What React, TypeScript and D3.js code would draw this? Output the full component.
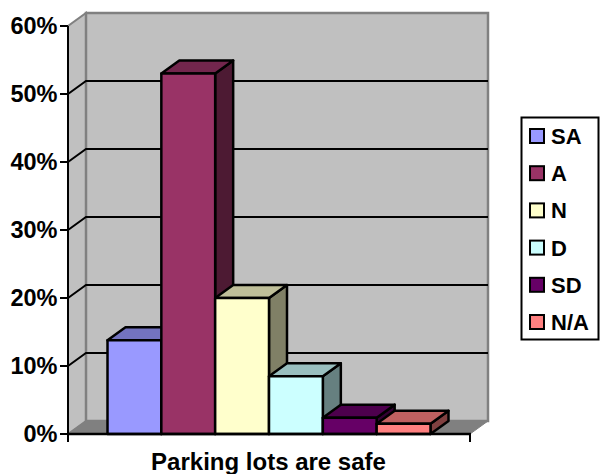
import { useEffect, useRef } from "react";
import * as d3 from "d3";

const categories = ["SA", "A", "N", "D", "SD", "N/A"];
const values = [13.8, 53, 20, 8.5, 2.4, 1.5];
const colors = ["#9999FF", "#993366", "#FFFFCC", "#CCFFFF", "#660066", "#FF8080"];
const ticks = [0, 10, 20, 30, 40, 50, 60];
const title = "Parking lots are safe";

const FONT = "'Liberation Sans', Arial, sans-serif";

export default function App() {
  const ref = useRef<SVGSVGElement>(null);

  useEffect(() => {
    if (!ref.current) return;
    const svg = d3.select(ref.current);
    svg.selectAll("*").remove();

    const left = 68;
    const right = 470;
    const dx = 18;
    const dy = -13;

    const y = d3.scaleLinear().domain([0, 60]).range([434, 26]);
    const x = d3.scaleBand<string>().domain(categories).range([107.5, 430.5]);
    const color = d3.scaleOrdinal<string, string>().domain(categories).range(colors);
    const shade = (c: string, k: number) => {
      const r = d3.rgb(c);
      return d3.rgb(r.r * k, r.g * k, r.b * k).formatHex();
    };
    const poly = (pts: [number, number][]) => d3.line()(pts) + "Z";

    // walls and floor
    const grey = "#808080";
    svg.append("path")
      .attr("d", poly([[left, y(0)], [left, y(60)], [left + dx, y(60) + dy], [left + dx, y(0) + dy]]))
      .attr("fill", "#C0C0C0").attr("stroke", grey).attr("stroke-width", 2);
    svg.append("path")
      .attr("d", poly([[left + dx, y(0) + dy], [left + dx, y(60) + dy], [right + dx, y(60) + dy], [right + dx, y(0) + dy]]))
      .attr("fill", "#C0C0C0").attr("stroke", grey).attr("stroke-width", 2.5);
    svg.append("path")
      .attr("d", poly([[left, y(0)], [left + dx, y(0) + dy], [right + dx, y(0) + dy], [right, y(0)]]))
      .attr("fill", grey).attr("stroke", grey).attr("stroke-width", 1);

    // gridlines
    svg.append("g").selectAll("path")
      .data(ticks.slice(1, -1))
      .enter()
      .append("path")
      .attr("d", (d: number) => d3.line()([[left, y(d)], [left + dx, y(d) + dy], [right + dx, y(d) + dy]]))
      .attr("fill", "none")
      .attr("stroke", "#000")
      .attr("stroke-width", 2);

    // bars, back to front
    const bars = svg.append("g")
      .attr("stroke", "#000")
      .attr("stroke-width", 2.5)
      .attr("stroke-linejoin", "round");
    categories.forEach((c, i) => {
      const x0 = x(c) as number;
      const x1 = x0 + x.bandwidth();
      const top = y(values[i]);
      const base = y(0);
      const g = bars.append("g");
      g.append("path")
        .attr("d", poly([[x1, top], [x1 + dx, top + dy], [x1 + dx, base + dy], [x1, base]]))
        .attr("fill", shade(color(c), 0.5));
      g.append("path")
        .attr("d", poly([[x0, top], [x0 + dx, top + dy], [x1 + dx, top + dy], [x1, top]]))
        .attr("fill", shade(color(c), 0.75));
      g.append("rect")
        .attr("x", x0)
        .attr("y", top)
        .attr("width", x1 - x0)
        .attr("height", base - top)
        .attr("fill", color(c));
    });

    // axes
    const axis = svg.append("g").attr("stroke", "#000").attr("stroke-width", 2).attr("fill", "none");
    axis.append("line").attr("x1", left).attr("x2", left).attr("y1", y(60)).attr("y2", y(0) + 8);
    axis.append("line").attr("x1", left - 1).attr("x2", right + 1).attr("y1", y(0)).attr("y2", y(0)).attr("stroke-width", 2.5);
    axis.append("line").attr("x1", right).attr("x2", right).attr("y1", y(0)).attr("y2", y(0) + 8);
    axis.selectAll(".tick")
      .data(ticks)
      .enter()
      .append("line")
      .attr("class", "tick")
      .attr("x1", left - 8)
      .attr("x2", left)
      .attr("y1", (d: number) => y(d))
      .attr("y2", (d: number) => y(d));

    svg.append("g").selectAll("text")
      .data(ticks)
      .enter()
      .append("text")
      .attr("x", left - 10.5)
      .attr("y", (d: number) => y(d))
      .attr("dy", "0.36em")
      .attr("text-anchor", "end")
      .attr("font-family", FONT)
      .attr("font-weight", "bold")
      .attr("font-size", 23.5)
      .text((d: number) => `${d}%`);

    svg.append("text")
      .attr("x", 268.5)
      .attr("y", 469.5)
      .attr("text-anchor", "middle")
      .attr("font-family", FONT)
      .attr("font-weight", "bold")
      .attr("font-size", 24)
      .text(title);

    // legend
    svg.append("rect")
      .attr("x", 521.5)
      .attr("y", 117.5)
      .attr("width", 77)
      .attr("height", 222)
      .attr("fill", "#fff")
      .attr("stroke", "#000")
      .attr("stroke-width", 2);
    const legend = svg.selectAll(".legend")
      .data(categories)
      .enter()
      .append("g")
      .attr("class", "legend")
      .attr("transform", (_d: string, i: number) => `translate(0,${136 + i * 37.2})`);
    legend.append("rect")
      .attr("x", 530)
      .attr("y", -7)
      .attr("width", 14)
      .attr("height", 14)
      .attr("fill", (d: string) => color(d))
      .attr("stroke", "#000")
      .attr("stroke-width", 2);
    legend.append("text")
      .attr("x", 551)
      .attr("dy", "0.36em")
      .attr("font-family", FONT)
      .attr("font-weight", "bold")
      .attr("font-size", 22)
      .text((d: string) => d);
  }, []);

  return <svg ref={ref} width={601} height={474} style={{ position: "absolute", left: 0, top: 0 }} />;
}
